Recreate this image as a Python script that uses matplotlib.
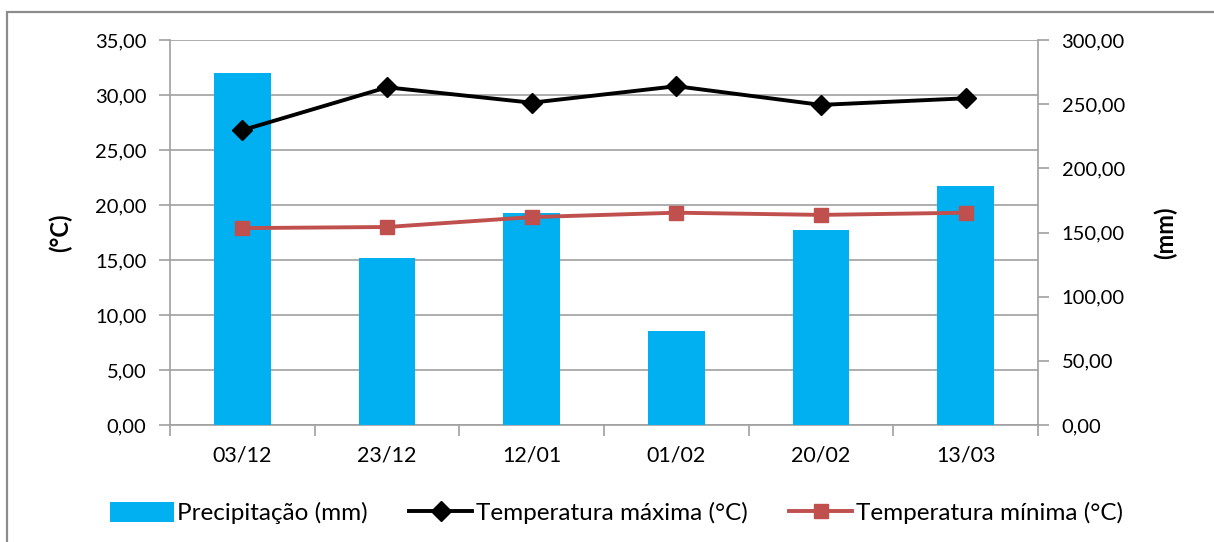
import matplotlib.pyplot as plt
from matplotlib.patches import Rectangle
from matplotlib.ticker import FuncFormatter, MultipleLocator, FixedLocator
import numpy as np

plt.rcParams['font.family'] = ['Lato', 'DejaVu Sans']

datas = ['03/12', '23/12', '12/01', '01/02', '20/02', '13/03']
precipitacao = [274.0, 130.0, 165.0, 73.0, 152.0, 186.0]
temp_max = [26.8, 30.7, 29.3, 30.8, 29.1, 29.7]
temp_min = [17.9, 18.0, 18.9, 19.3, 19.1, 19.3]

fmt = FuncFormatter(lambda v, p: f'{v:.2f}'.replace('.', ','))
cinza = '#a0a0a0'

fig = plt.figure(figsize=(12.14, 5.42), dpi=100)
pos = [170 / 1214, 1 - 425 / 542, (1038 - 170) / 1214, (425 - 40) / 542]

# left axis (°C) with gridlines
ax = fig.add_axes(pos)
x = np.arange(len(datas))
ax.set_xlim(-0.5, len(datas) - 0.5)
ax.set_ylim(0, 35)
ax.yaxis.set_major_locator(MultipleLocator(5))
ax.yaxis.set_major_formatter(fmt)
ax.grid(axis='y', color=cinza, lw=1.2)
ax.set_axisbelow(True)
ax.set_xticks(x)
ax.set_xticklabels(datas)
ax.xaxis.set_minor_locator(FixedLocator(np.arange(-0.5, len(datas), 1)))
ax.tick_params(axis='x', which='major', length=0, pad=15, labelsize=15.5)
ax.tick_params(axis='x', which='minor', length=8, color=cinza, width=1.2)
ax.tick_params(axis='y', length=8, color=cinza, width=1.2, labelsize=14.5, pad=9)
for s in ['top', 'right']:
    ax.spines[s].set_visible(False)
for s in ['left', 'bottom']:
    ax.spines[s].set_color(cinza)
    ax.spines[s].set_linewidth(1.2)
ax.set_ylabel('(°C)', fontsize=17, fontweight='bold', labelpad=16)

# right axis (mm) with bars
ax2 = ax.twinx()
ax2.patch.set_visible(False)
barras = ax2.bar(x, precipitacao, width=0.39, color='#00b0f0', label='Precipitação (mm)')
ax2.set_ylim(0, 300)
ax2.yaxis.set_major_locator(MultipleLocator(50))
ax2.yaxis.set_major_formatter(fmt)
ax2.tick_params(axis='y', length=8, color=cinza, width=1.2, labelsize=14.5, pad=9)
for s in ['top', 'left', 'bottom']:
    ax2.spines[s].set_visible(False)
ax2.spines['right'].set_color(cinza)
ax2.spines['right'].set_linewidth(1.2)
ax2.set_ylabel('(mm)', fontsize=17, fontweight='bold', labelpad=21)

# overlay for temperature lines
ax3 = fig.add_axes(pos, sharex=ax, sharey=ax)
ax3.axis('off')
l1, = ax3.plot(x, temp_max, color='black', lw=2.8, marker='D', markersize=10,
               label='Temperatura máxima (°C)')
l2, = ax3.plot(x, temp_min, color='#c0504d', lw=2.8, marker='s', markersize=10,
               label='Temperatura mínima (°C)')

fig.legend([barras, l1, l2], [barras.get_label(), l1.get_label(), l2.get_label()],
           loc='center', bbox_to_anchor=(0.508, 1 - 513 / 542), ncol=3, frameon=False,
           fontsize=17.5, handlelength=2.6, handleheight=0.9, columnspacing=1.7,
           handletextpad=0.15)

fig.patches.append(Rectangle((7 / 1214, -0.1), 1.2, 1 - 12 / 542 + 0.1,
                             transform=fig.transFigure, fill=False,
                             edgecolor='#8c8c8c', lw=1.6))

fig.savefig('out.png', dpi=100)
